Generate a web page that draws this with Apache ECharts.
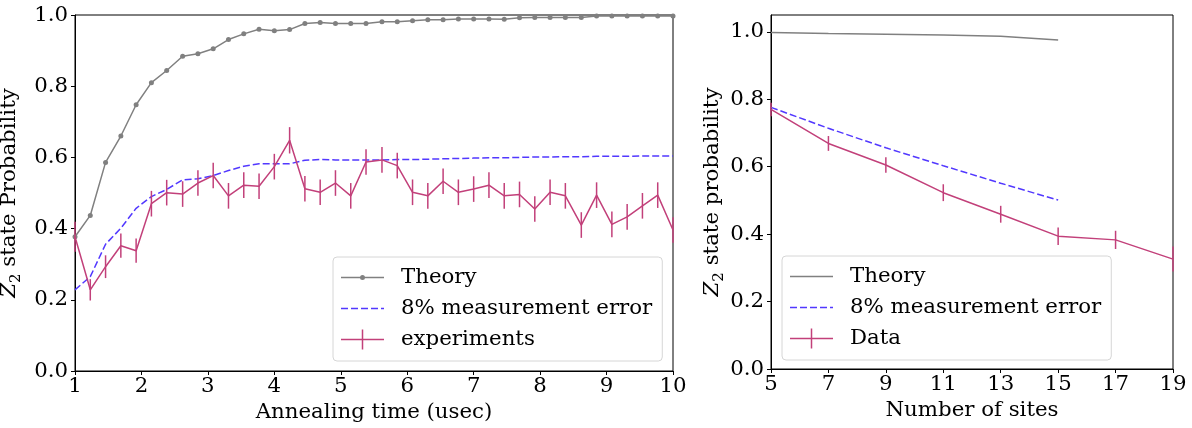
<!DOCTYPE html>
<html>
<head>
<meta charset="utf-8">
<script src="https://cdn.jsdelivr.net/npm/echarts@6/dist/echarts.min.js"></script>
<style>html,body{margin:0;padding:0;background:#fff;}#c{width:1192px;height:428px;}</style>
</head>
<body>
<div id="c"></div>
<script>
// ---- Left panel: annealing time ----
const annealTimes = [1.00,1.23,1.46,1.69,1.92,2.15,2.38,2.62,2.85,3.08,3.31,3.54,3.77,4.00,4.23,4.46,4.69,4.92,5.15,5.38,5.62,5.85,6.08,6.31,6.54,6.77,7.00,7.23,7.46,7.69,7.92,8.15,8.38,8.62,8.85,9.08,9.31,9.54,9.77,10.00];
const theoryAnneal = [0.377,0.437,0.586,0.660,0.748,0.810,0.844,0.884,0.891,0.905,0.931,0.947,0.960,0.956,0.959,0.976,0.979,0.976,0.976,0.976,0.981,0.981,0.984,0.987,0.987,0.989,0.989,0.989,0.988,0.992,0.993,0.993,0.993,0.993,0.997,0.997,0.997,0.997,0.997,0.997];
const measErrAnneal = [0.228,0.265,0.356,0.401,0.457,0.490,0.510,0.537,0.540,0.549,0.563,0.575,0.582,0.582,0.582,0.592,0.594,0.593,0.593,0.593,0.593,0.594,0.594,0.595,0.596,0.597,0.598,0.599,0.599,0.600,0.601,0.601,0.602,0.602,0.603,0.603,0.603,0.604,0.604,0.604];
const expAnneal = [0.377,0.228,0.293,0.352,0.338,0.470,0.501,0.497,0.528,0.549,0.492,0.522,0.519,0.574,0.648,0.512,0.502,0.528,0.492,0.587,0.593,0.577,0.502,0.492,0.533,0.502,0.511,0.522,0.492,0.496,0.455,0.502,0.492,0.410,0.494,0.412,0.433,0.464,0.494,0.396];
const expAnnealErr = [0.042,0.030,0.032,0.034,0.034,0.036,0.036,0.036,0.036,0.036,0.036,0.036,0.036,0.036,0.037,0.036,0.036,0.036,0.036,0.036,0.036,0.036,0.036,0.036,0.036,0.036,0.036,0.036,0.036,0.036,0.036,0.036,0.036,0.036,0.036,0.036,0.036,0.036,0.036,0.036];
const leftXTicks = [1,2,3,4,5,6,7,8,9,10];
const probTicks = [0,0.2,0.4,0.6,0.8,1.0];

// ---- Right panel: number of sites ----
const sitesTheory = [5,7,9,11,13,15];
const theorySites = [0.998,0.995,0.993,0.991,0.987,0.976];
const measErrSites = [0.776,0.714,0.656,0.603,0.551,0.501];
const sitesData = [5,7,9,11,13,15,17,19];
const dataSites = [0.770,0.669,0.605,0.523,0.459,0.394,0.383,0.326];
const dataSitesErr = [0.020,0.022,0.023,0.025,0.025,0.026,0.027,0.037];
const rightXTicks = [5,7,9,11,13,15,17,19];

const FONT = 'DejaVu Serif';
const FS = 21.3;
const GRAY = '#808080', BLUE = '#5238ff', PINK = '#c2407a';

function zip(xs, ys){ return xs.map((x,i)=>[x, ys[i]]); }
function errData(xs, ys, es){ return xs.map((x,i)=>[x, ys[i], es[i]]); }

function errRender(params, api){
  const x = api.value(0), y = api.value(1), e = api.value(2);
  const p1 = api.coord([x, y - e]);
  const p2 = api.coord([x, y + e]);
  return {type:'line', shape:{x1:p1[0], y1:p1[1], x2:p2[0], y2:p2[1]},
          style:{stroke: PINK, lineWidth: 1.5}};
}

// legend icons (43 x 20 box, with tiny corner marks to fix the bounding box)
const B = 'M0,0h0.01v0.01h-0.01z M43,20h-0.01v-0.01h0.01z ';
const iconTheoryDot = 'path://' + B + 'M0,9.25h43v1.5h-43z M24,10a2.5,2.5 0 1,1 -5,0a2.5,2.5 0 1,1 5,0z';
const iconLine = 'path://' + B + 'M0,9.25h43v1.5h-43z';
const iconDash = 'path://' + B + 'M0,9.25h7v1.5h-7z M10,9.25h7v1.5h-7z M20,9.25h7v1.5h-7z M30,9.25h7v1.5h-7z M40,9.25h3v1.5h-3z';
const iconErr = 'path://' + B + 'M0,9.25h43v1.5h-43z M20.75,0h1.5v20h-1.5z';

function axisCommon(){
  return {
    axisLine:{show:true, onZero:false, lineStyle:{color:'#000', width:1}},
    splitLine:{show:false},
    nameTextStyle:{color:'#000', fontFamily:FONT, fontSize:FS}
  };
}

const yName = (t)=>({
  name: '{z|Z}{s|2}{t|' + t + '}',
  nameLocation:'middle',
  nameGap:39,
  nameTextStyle:{color:'#000', fontFamily:FONT, fontSize:FS,
    rich:{
      z:{fontFamily:FONT, fontSize:FS, fontStyle:'italic', color:'#000', verticalAlign:'middle', lineHeight:27},
      s:{fontFamily:FONT, fontSize:15, color:'#000', verticalAlign:'bottom', lineHeight:15},
      t:{fontFamily:FONT, fontSize:FS, color:'#000', verticalAlign:'middle', lineHeight:27}
    }}
});

const legendCommon = {
  orient:'vertical',
  backgroundColor:'rgba(255,255,255,0.8)',
  borderColor:'#d6d6d6', borderWidth:1, borderRadius:4,
  padding:[10,10,11,8],
  itemGap:10, itemWidth:43, itemHeight:21,
  itemStyle:{borderWidth:0},
  textStyle:{fontFamily:FONT, fontSize:FS, color:'#000', lineHeight:21, padding:[0,0,0,12]},
  selectedMode:false
};

const option = {
  animation:false,
  backgroundColor:'#fff',
  grid:[
    {left:75, right:519, top:15, bottom:57, show:true, borderColor:'#000', borderWidth:1, backgroundColor:'transparent', outerBoundsMode:'none', containLabel:false},
    {left:771, right:19, top:15, bottom:59, show:true, borderColor:'#000', borderWidth:1, backgroundColor:'transparent', outerBoundsMode:'none', containLabel:false}
  ],
  legend:[
    Object.assign({}, legendCommon, {left:333, top:257,
      data:[
        {name:'Theory', icon:iconTheoryDot, itemStyle:{color:GRAY}},
        {name:'8% measurement error', icon:iconDash, itemStyle:{color:BLUE}},
        {name:'experiments', icon:iconErr, itemStyle:{color:PINK}}
      ]}),
    Object.assign({}, legendCommon, {left:782, top:256,
      data:[
        {name:'Theory ', icon:iconLine, itemStyle:{color:GRAY}},
        {name:'8% measurement error ', icon:iconDash, itemStyle:{color:BLUE}},
        {name:'Data', icon:iconErr, itemStyle:{color:PINK}}
      ],
      formatter:(n)=>n.trim()})
  ],
  xAxis:[
    Object.assign(axisCommon(), {type:'value', gridIndex:0, min:1, max:10, interval:1,
      name:'Annealing time (usec)', nameLocation:'middle', nameGap:27,
      axisLabel:{color:'#000', fontFamily:FONT, fontSize:FS, margin:5, customValues:leftXTicks},
      axisTick:{show:true, length:4, lineStyle:{color:'#000'}, customValues:leftXTicks}}),
    Object.assign(axisCommon(), {type:'value', gridIndex:1, min:5, max:19,
      name:'Number of sites', nameLocation:'middle', nameGap:27,
      axisLabel:{color:'#000', fontFamily:FONT, fontSize:FS, margin:5, customValues:rightXTicks},
      axisTick:{show:true, length:4, lineStyle:{color:'#000'}, customValues:rightXTicks}})
  ],
  yAxis:[
    Object.assign(axisCommon(), yName(' state Probability'), {type:'value', gridIndex:0, min:0, max:1,
      axisLabel:{color:'#000', fontFamily:FONT, fontSize:FS, margin:7, customValues:probTicks, formatter:(v)=>v.toFixed(1)},
      axisTick:{show:true, length:4, lineStyle:{color:'#000'}, customValues:probTicks}}),
    Object.assign(axisCommon(), yName(' state probability'), {type:'value', gridIndex:1, min:0, max:1.05,
      axisLabel:{color:'#000', fontFamily:FONT, fontSize:FS, margin:7, customValues:probTicks, formatter:(v)=>v.toFixed(1)},
      axisTick:{show:true, length:4, lineStyle:{color:'#000'}, customValues:probTicks}})
  ],
  series:[
    {name:'Theory', type:'line', xAxisIndex:0, yAxisIndex:0, data:zip(annealTimes, theoryAnneal),
      color:GRAY, lineStyle:{color:GRAY, width:1.5}, symbol:'circle', symbolSize:5, showSymbol:true,
      itemStyle:{color:GRAY}, z:2},
    {name:'8% measurement error', type:'line', xAxisIndex:0, yAxisIndex:0, data:zip(annealTimes, measErrAnneal),
      color:BLUE, lineStyle:{color:BLUE, width:1.5, type:[7,3]}, symbol:'none', z:3},
    {name:'experiments', type:'line', xAxisIndex:0, yAxisIndex:0, data:zip(annealTimes, expAnneal),
      color:PINK, lineStyle:{color:PINK, width:1.5}, symbol:'none', z:4},
    {name:'experiments', type:'custom', xAxisIndex:0, yAxisIndex:0, data:errData(annealTimes, expAnneal, expAnnealErr),
      renderItem:errRender, encode:{x:0, y:1}, z:4, silent:true},

    {name:'Theory ', type:'line', xAxisIndex:1, yAxisIndex:1, data:zip(sitesTheory, theorySites),
      color:GRAY, lineStyle:{color:GRAY, width:1.5}, symbol:'none', z:2},
    {name:'8% measurement error ', type:'line', xAxisIndex:1, yAxisIndex:1, data:zip(sitesTheory, measErrSites),
      color:BLUE, lineStyle:{color:BLUE, width:1.5, type:[7,3]}, symbol:'none', z:3},
    {name:'Data', type:'line', xAxisIndex:1, yAxisIndex:1, data:zip(sitesData, dataSites),
      color:PINK, lineStyle:{color:PINK, width:1.5}, symbol:'none', z:4},
    {name:'Data', type:'custom', xAxisIndex:1, yAxisIndex:1, data:errData(sitesData, dataSites, dataSitesErr),
      renderItem:errRender, encode:{x:0, y:1}, z:4, silent:true}
  ]
};

const chart = echarts.init(document.getElementById('c'), null, {renderer:'canvas'});
chart.setOption(option);
</script>
</body>
</html>
